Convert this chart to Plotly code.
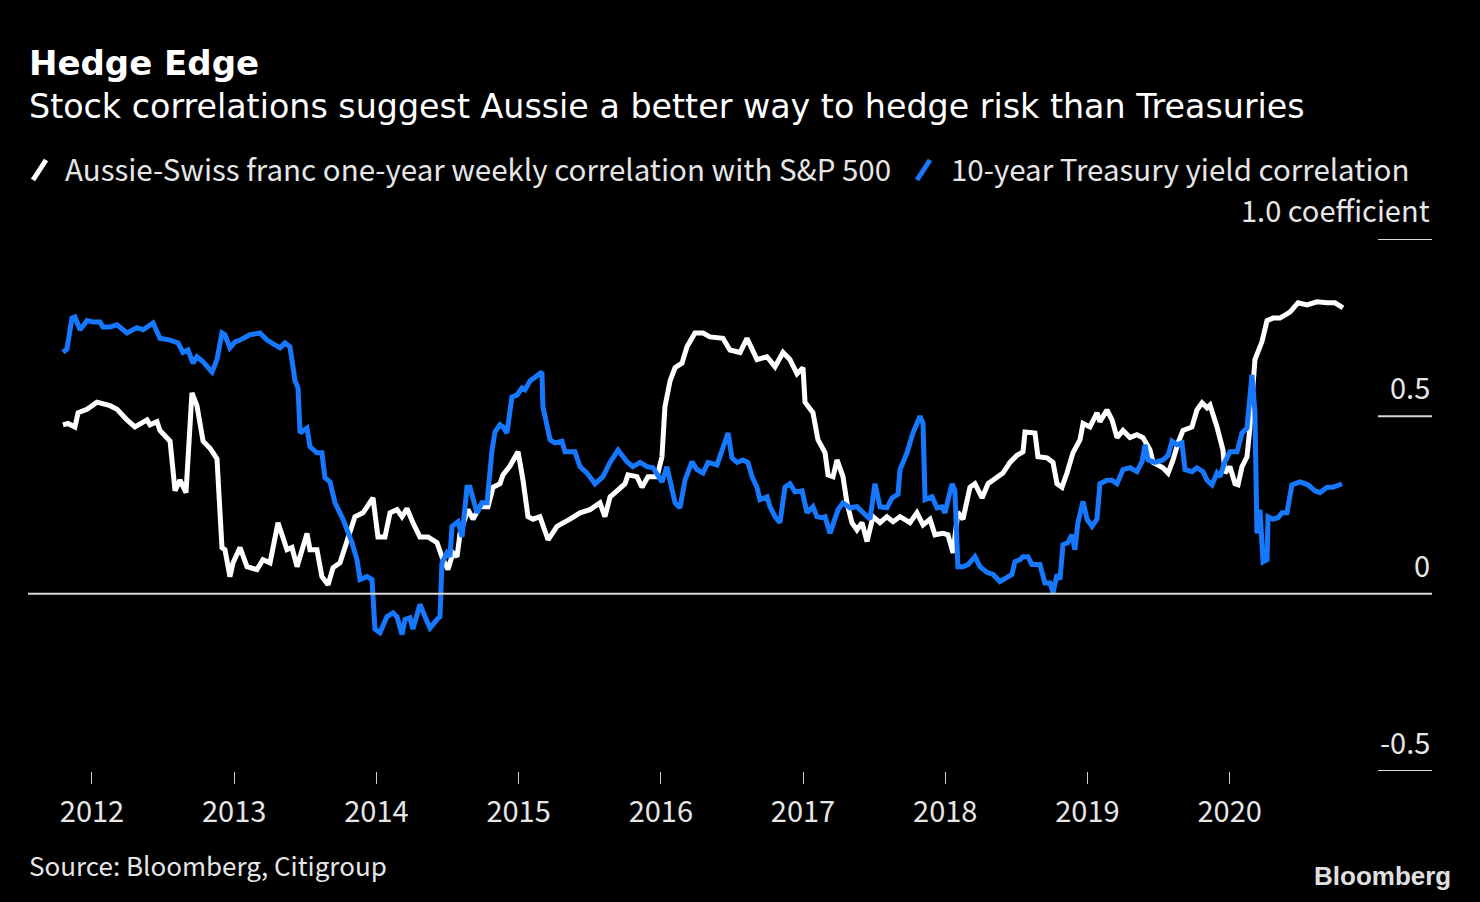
import plotly.graph_objects as go

# ---------------- data ----------------
aud_t = [2011.796, 2011.831, 2011.880, 2011.902, 2011.965, 2012.035, 2012.127, 2012.176, 2012.246, 2012.302,
         2012.387, 2012.408, 2012.457, 2012.478, 2012.549, 2012.584, 2012.619, 2012.661, 2012.703, 2012.738,
         2012.781, 2012.830, 2012.879, 2012.914, 2012.935, 2012.970, 2012.992, 2013.041, 2013.090, 2013.160,
         2013.202, 2013.252, 2013.308, 2013.371, 2013.406, 2013.442, 2013.512, 2013.533, 2013.582, 2013.617,
         2013.660, 2013.695, 2013.744, 2013.814, 2013.849, 2013.906, 2013.976, 2014.011, 2014.060, 2014.096,
         2014.145, 2014.180, 2014.215, 2014.257, 2014.306, 2014.363, 2014.426, 2014.461, 2014.503, 2014.539,
         2014.567, 2014.588, 2014.644, 2014.679, 2014.728, 2014.785, 2014.820, 2014.869, 2014.890, 2014.939,
         2014.996, 2015.031, 2015.066, 2015.101, 2015.150, 2015.207, 2015.270, 2015.361, 2015.432, 2015.502,
         2015.572, 2015.607, 2015.643, 2015.692, 2015.748, 2015.769, 2015.832, 2015.868, 2015.910, 2015.973,
         2016.008, 2016.029, 2016.065, 2016.100, 2016.149, 2016.184, 2016.240, 2016.297, 2016.346, 2016.437,
         2016.486, 2016.557, 2016.606, 2016.676, 2016.747, 2016.803, 2016.859, 2016.908, 2016.958, 2017.000,
         2017.014, 2017.070, 2017.105, 2017.155, 2017.176, 2017.211, 2017.239, 2017.281, 2017.309, 2017.344,
         2017.379, 2017.415, 2017.450, 2017.492, 2017.541, 2017.590, 2017.633, 2017.682, 2017.752, 2017.801,
         2017.844, 2017.893, 2017.928, 2017.984, 2018.019, 2018.055, 2018.089, 2018.125, 2018.174, 2018.209,
         2018.259, 2018.301, 2018.364, 2018.406, 2018.455, 2018.505, 2018.547, 2018.561, 2018.631, 2018.652,
         2018.716, 2018.758, 2018.786, 2018.821, 2018.856, 2018.898, 2018.948, 2018.969, 2019.018, 2019.067,
         2019.088, 2019.137, 2019.173, 2019.208, 2019.250, 2019.299, 2019.348, 2019.391, 2019.440, 2019.461,
         2019.531, 2019.567, 2019.602, 2019.637, 2019.672, 2019.735, 2019.770, 2019.806, 2019.841, 2019.862,
         2019.911, 2019.932, 2019.953, 2019.967, 2020.002, 2020.038, 2020.059, 2020.087, 2020.122, 2020.143,
         2020.178, 2020.227, 2020.263, 2020.305, 2020.354, 2020.424, 2020.481, 2020.544, 2020.614, 2020.685,
         2020.741, 2020.797]
aud_corr = [0.476, 0.480, 0.470, 0.510, 0.520, 0.540, 0.530, 0.520, 0.490, 0.470,
            0.490, 0.476, 0.485, 0.460, 0.430, 0.290, 0.320, 0.285, 0.566, 0.530,
            0.430, 0.410, 0.380, 0.130, 0.124, 0.048, 0.087, 0.130, 0.076, 0.068,
            0.096, 0.087, 0.200, 0.124, 0.130, 0.076, 0.170, 0.124, 0.124, 0.048,
            0.025, 0.073, 0.087, 0.170, 0.217, 0.228, 0.270, 0.160, 0.160, 0.228,
            0.237, 0.217, 0.240, 0.200, 0.160, 0.160, 0.144, 0.104, 0.068, 0.115,
            0.104, 0.170, 0.237, 0.210, 0.245, 0.245, 0.300, 0.310, 0.335, 0.360,
            0.400, 0.320, 0.217, 0.210, 0.217, 0.152, 0.190, 0.210, 0.228, 0.237,
            0.256, 0.217, 0.273, 0.290, 0.310, 0.335, 0.330, 0.300, 0.330, 0.330,
            0.386, 0.527, 0.600, 0.637, 0.650, 0.696, 0.735, 0.735, 0.724, 0.720,
            0.687, 0.680, 0.720, 0.660, 0.668, 0.640, 0.680, 0.660, 0.620, 0.637,
            0.540, 0.510, 0.434, 0.397, 0.335, 0.330, 0.377, 0.330, 0.256, 0.200,
            0.180, 0.200, 0.147, 0.217, 0.200, 0.217, 0.203, 0.217, 0.200, 0.228,
            0.194, 0.210, 0.166, 0.170, 0.166, 0.115, 0.230, 0.210, 0.300, 0.310,
            0.270, 0.310, 0.330, 0.340, 0.370, 0.390, 0.400, 0.456, 0.453, 0.386,
            0.383, 0.370, 0.310, 0.300, 0.340, 0.397, 0.434, 0.480, 0.470, 0.510,
            0.485, 0.518, 0.490, 0.440, 0.460, 0.440, 0.448, 0.440, 0.405, 0.370,
            0.355, 0.340, 0.377, 0.425, 0.460, 0.470, 0.518, 0.538, 0.524, 0.532,
            0.470, 0.440, 0.405, 0.340, 0.358, 0.310, 0.307, 0.358, 0.386, 0.470,
            0.660, 0.710, 0.770, 0.777, 0.777, 0.794, 0.820, 0.814, 0.823, 0.820,
            0.820, 0.806]

ust_t = [2011.796, 2011.824, 2011.859, 2011.880, 2011.916, 2011.965, 2012.007, 2012.056, 2012.077, 2012.127,
         2012.176, 2012.246, 2012.316, 2012.359, 2012.429, 2012.478, 2012.549, 2012.605, 2012.640, 2012.675,
         2012.710, 2012.738, 2012.781, 2012.844, 2012.879, 2012.914, 2012.935, 2012.970, 2013.006, 2013.041,
         2013.111, 2013.181, 2013.231, 2013.301, 2013.322, 2013.357, 2013.392, 2013.428, 2013.449, 2013.463,
         2013.512, 2013.533, 2013.582, 2013.617, 2013.638, 2013.674, 2013.709, 2013.765, 2013.828, 2013.863,
         2013.885, 2013.934, 2013.969, 2013.990, 2014.025, 2014.074, 2014.117, 2014.145, 2014.180, 2014.201,
         2014.236, 2014.257, 2014.306, 2014.342, 2014.377, 2014.426, 2014.447, 2014.461, 2014.496, 2014.517,
         2014.532, 2014.574, 2014.602, 2014.637, 2014.658, 2014.707, 2014.742, 2014.778, 2014.813, 2014.834,
         2014.869, 2014.890, 2014.918, 2014.953, 2014.989, 2015.024, 2015.045, 2015.080, 2015.129, 2015.164,
         2015.171, 2015.221, 2015.256, 2015.305, 2015.326, 2015.396, 2015.432, 2015.481, 2015.537, 2015.593,
         2015.643, 2015.699, 2015.762, 2015.804, 2015.854, 2015.903, 2015.945, 2016.008, 2016.043, 2016.079,
         2016.100, 2016.135, 2016.170, 2016.219, 2016.254, 2016.297, 2016.332, 2016.395, 2016.430, 2016.473,
         2016.500, 2016.536, 2016.578, 2016.613, 2016.641, 2016.676, 2016.697, 2016.747, 2016.768, 2016.803,
         2016.838, 2016.873, 2016.908, 2016.943, 2016.993, 2017.028, 2017.070, 2017.098, 2017.133, 2017.155,
         2017.190, 2017.246, 2017.281, 2017.330, 2017.379, 2017.422, 2017.471, 2017.506, 2017.541, 2017.590,
         2017.626, 2017.668, 2017.682, 2017.731, 2017.773, 2017.822, 2017.844, 2017.858, 2017.907, 2017.942,
         2017.977, 2017.998, 2018.048, 2018.068, 2018.089, 2018.125, 2018.160, 2018.209, 2018.244, 2018.294,
         2018.336, 2018.385, 2018.434, 2018.469, 2018.490, 2018.526, 2018.547, 2018.582, 2018.610, 2018.666,
         2018.701, 2018.737, 2018.758, 2018.786, 2018.807, 2018.828, 2018.863, 2018.891, 2018.912, 2018.933,
         2018.969, 2018.997, 2019.032, 2019.067, 2019.088, 2019.137, 2019.173, 2019.208, 2019.250, 2019.299,
         2019.348, 2019.384, 2019.405, 2019.426, 2019.475, 2019.531, 2019.567, 2019.595, 2019.630, 2019.665,
         2019.686, 2019.735, 2019.770, 2019.813, 2019.841, 2019.876, 2019.911, 2019.932, 2019.967, 2020.002,
         2020.052, 2020.087, 2020.122, 2020.157, 2020.178, 2020.192, 2020.213, 2020.235, 2020.263, 2020.270,
         2020.305, 2020.340, 2020.368, 2020.403, 2020.438, 2020.495, 2020.551, 2020.600, 2020.635, 2020.685,
         2020.727, 2020.790]
ust_corr = [0.680, 0.690, 0.777, 0.780, 0.744, 0.770, 0.766, 0.766, 0.752, 0.752,
            0.758, 0.735, 0.750, 0.744, 0.763, 0.720, 0.715, 0.707, 0.680, 0.687,
            0.650, 0.668, 0.654, 0.625, 0.660, 0.735, 0.730, 0.693, 0.710, 0.715,
            0.730, 0.735, 0.715, 0.700, 0.693, 0.707, 0.696, 0.600, 0.580, 0.453,
            0.467, 0.414, 0.397, 0.397, 0.327, 0.315, 0.256, 0.210, 0.144, 0.096,
            0.040, 0.048, 0.040, -0.100, -0.110, -0.065, -0.054, -0.065, -0.115, -0.073,
            -0.068, -0.100, -0.030, -0.065, -0.097, -0.073, -0.065, 0.087, 0.115, 0.104,
            0.190, 0.203, 0.160, 0.300, 0.300, 0.228, 0.256, 0.256, 0.405, 0.456,
            0.476, 0.470, 0.453, 0.555, 0.560, 0.580, 0.575, 0.600, 0.617, 0.625,
            0.527, 0.434, 0.425, 0.430, 0.400, 0.400, 0.358, 0.340, 0.310, 0.330,
            0.370, 0.405, 0.372, 0.358, 0.370, 0.358, 0.355, 0.315, 0.358, 0.290,
            0.256, 0.242, 0.320, 0.372, 0.350, 0.340, 0.370, 0.363, 0.400, 0.453,
            0.383, 0.370, 0.377, 0.370, 0.330, 0.300, 0.265, 0.273, 0.245, 0.217,
            0.200, 0.300, 0.310, 0.287, 0.290, 0.228, 0.245, 0.217, 0.214, 0.217,
            0.170, 0.237, 0.256, 0.242, 0.245, 0.228, 0.210, 0.310, 0.245, 0.242,
            0.270, 0.280, 0.350, 0.397, 0.453, 0.500, 0.480, 0.265, 0.273, 0.242,
            0.245, 0.228, 0.310, 0.290, 0.076, 0.076, 0.082, 0.104, 0.076, 0.060,
            0.054, 0.034, 0.048, 0.054, 0.090, 0.096, 0.104, 0.104, 0.082, 0.082,
            0.030, 0.030, 0.003, 0.054, 0.040, 0.138, 0.144, 0.166, 0.124, 0.200,
            0.260, 0.210, 0.190, 0.210, 0.310, 0.320, 0.320, 0.310, 0.350, 0.355,
            0.344, 0.372, 0.420, 0.377, 0.370, 0.377, 0.390, 0.430, 0.420, 0.425,
            0.350, 0.344, 0.355, 0.344, 0.320, 0.307, 0.340, 0.330, 0.372, 0.400,
            0.400, 0.453, 0.467, 0.617, 0.510, 0.170, 0.237, 0.090, 0.096, 0.217,
            0.210, 0.214, 0.228, 0.228, 0.307, 0.315, 0.307, 0.290, 0.285, 0.300,
            0.300, 0.310]

year_ticks = [2012, 2013, 2014, 2015, 2016, 2017, 2018, 2019, 2020]
year_labels = ["2012", "2013", "2014", "2015", "2016", "2017", "2018", "2019", "2020"]
y_ticks = [1.0, 0.5, 0.0, -0.5]
y_labels = ["1.0 coefficient", "0.5", "0", "-0.5"]

title_text = "Hedge Edge"
subtitle_text = "Stock correlations suggest Aussie a better way to hedge risk than Treasuries"
series_names = ["Aussie-Swiss franc one-year weekly correlation with S&P 500",
                "10-year Treasury yield correlation"]
source_text = "Source: Bloomberg, Citigroup"

WHITE = "#ffffff"
BLUE = "#1677ff"
TEXT = "#e6e6e6"
FONT = "Noto Sans CJK JP"

# ---------------- layout geometry (pixels) ----------------
W, H = 1480, 902
L, R, T, B = 28, 48, 239, 131
PW, PH = W - L - R, H - T - B


def px(x):
    return (x - L) / PW


def py(y):
    return (H - B - y) / PH


fig = go.Figure()
fig.add_trace(go.Scatter(x=aud_t, y=aud_corr, mode="lines", name=series_names[0],
                         line=dict(color=WHITE, width=5), hoverinfo="skip"))
fig.add_trace(go.Scatter(x=ust_t, y=ust_corr, mode="lines", name=series_names[1],
                         line=dict(color=BLUE, width=5), hoverinfo="skip"))

shapes = []
# zero line across the plot
shapes.append(dict(type="line", xref="paper", yref="y", x0=0, x1=1, y0=0, y1=0,
                   line=dict(color="#d9d9d9", width=2)))
# short right-hand grid stubs
for v in y_ticks:
    if v != 0:
        shapes.append(dict(type="line", xref="paper", yref="y", x0=px(1378), x1=1, y0=v, y1=v,
                           line=dict(color="#d9d9d9", width=2)))
# legend slashes
shapes.append(dict(type="line", xref="paper", yref="paper", x0=px(33), y0=py(180), x1=px(46), y1=py(160),
                   line=dict(color=WHITE, width=5)))
shapes.append(dict(type="line", xref="paper", yref="paper", x0=px(917), y0=py(180), x1=px(930), y1=py(160),
                   line=dict(color=BLUE, width=5)))

annotations = []
for v, lab in zip(y_ticks, y_labels):
    annotations.append(dict(x=1, xref="paper", y=v, yref="y", text=lab, showarrow=False,
                            xanchor="right", yanchor="middle", yshift=30,
                            font=dict(family=FONT, size=29, color=TEXT)))

annotations += [
    dict(x=px(27), y=py(63), xref="paper", yref="paper", text="<b>" + title_text + "</b>",
         showarrow=False, xanchor="left", yanchor="middle",
         font=dict(family="DejaVu Sans", size=34, color=WHITE)),
    dict(x=px(27), y=py(106), xref="paper", yref="paper", text=subtitle_text,
         showarrow=False, xanchor="left", yanchor="middle",
         font=dict(family="DejaVu Sans", size=33.3, color=WHITE)),
    dict(x=px(63), y=py(168), xref="paper", yref="paper", text=series_names[0], showarrow=False,
         xanchor="left", yanchor="middle", font=dict(family=FONT, size=29.5, color=TEXT)),
    dict(x=px(949), y=py(168), xref="paper", yref="paper", text=series_names[1], showarrow=False,
         xanchor="left", yanchor="middle", font=dict(family=FONT, size=29.5, color=TEXT)),
    dict(x=px(27), y=py(864), xref="paper", yref="paper", text=source_text,
         showarrow=False, xanchor="left", yanchor="middle", font=dict(family=FONT, size=26, color=TEXT)),
    dict(x=px(1453), y=py(876), xref="paper", yref="paper", text="<b>Bloomberg</b>", showarrow=False,
         xanchor="right", yanchor="middle", font=dict(family="Liberation Sans", size=26, color="#e0e0e0")),
]

fig.update_layout(
    width=W, height=H,
    paper_bgcolor="black", plot_bgcolor="black",
    margin=dict(l=L, r=R, t=T, b=B, pad=0),
    showlegend=False,
    shapes=shapes, annotations=annotations,
    xaxis=dict(range=[2011.55, 2021.423], tickmode="array", tickvals=year_ticks, ticktext=year_labels,
               ticks="outside", ticklen=12, tickwidth=1, tickcolor="#cccccc",
               showgrid=False, zeroline=False, showline=False, ticklabelstandoff=3,
               tickfont=dict(family=FONT, size=29, color=TEXT), fixedrange=True),
    yaxis=dict(range=[-0.5, 1.0], showticklabels=False, showgrid=False, zeroline=False,
               showline=False, ticks="", fixedrange=True),
)

fig.write_html("out.html")
